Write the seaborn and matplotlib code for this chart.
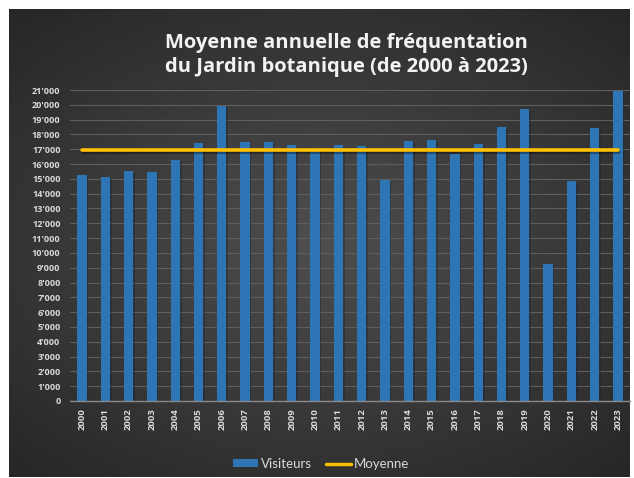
import numpy as np
import pandas as pd
import matplotlib
matplotlib.use("Agg")
import matplotlib.pyplot as plt
import matplotlib.patheffects as pe
from matplotlib.patches import Patch
from matplotlib.lines import Line2D
import seaborn as sns

# data
annees = [str(a) for a in range(2000, 2024)]
visiteurs = [15250, 15150, 15530, 15440, 16270, 17400, 19940, 17510, 17490, 17290,
             16900, 17260, 17240, 14940, 17560, 17620, 16680, 17330, 18480, 19720,
             9230, 14830, 18410, 20930]
moyenne = 16930
y_ticks = list(range(0, 22000, 1000))

sns.set_style("dark")
plt.rcParams["font.family"] = ["Open Sans", "DejaVu Sans"]

fig = plt.figure(figsize=(6.34, 4.78), dpi=100)
fig.patch.set_facecolor("white")

# dark gradient background of the chart area
bg = fig.add_axes([9 / 634, 1 - 477 / 478, 621 / 634, 468 / 478])
gx, gy = np.meshgrid(np.linspace(-1, 1, 300), np.linspace(-1, 1, 300))
r = np.sqrt((gx * 0.9) ** 2 + (gy * 1.0) ** 2)
bg.imshow(r, cmap=matplotlib.colors.LinearSegmentedColormap.from_list(
    "g", ["#4e4e4e", "#3a3a3a", "#262626"]), aspect="auto", vmin=0, vmax=1.35,
    extent=[0, 1, 0, 1])
bg.set_axis_off()

ax = fig.add_axes([70.3 / 634, 77 / 478, 559.4 / 634, 311 / 478])
ax.set_facecolor("none")

df = pd.DataFrame({"annee": annees, "visiteurs": visiteurs})
sns.barplot(data=df, x="annee", y="visiteurs", color="#2E75B6", width=0.4,
            saturation=1, edgecolor="none", linewidth=0, ax=ax, zorder=2)
for b in ax.patches:
    b.set_path_effects([pe.SimplePatchShadow(offset=(1.2, -1.2), alpha=0.35), pe.Normal()])

ax.plot(np.arange(len(annees)), [moyenne] * len(annees), color="#FFC000", lw=2.6,
        solid_capstyle="round", zorder=3,
        path_effects=[pe.SimpleLineShadow(offset=(1, -1.5), alpha=0.4), pe.Normal()])

ax.set_xlim(-0.5, len(annees) - 0.5)
ax.set_ylim(0, 21000)
ax.set_yticks(y_ticks)
ax.set_yticklabels([f"{v:,}".replace(",", "'") for v in y_ticks])
ax.yaxis.grid(True, color="#5e5e5e", lw=0.8)
ax.xaxis.grid(False)
ax.set_axisbelow(True)
ax.set_xlabel("")
ax.set_ylabel("")
for s in ["left", "right", "top"]:
    ax.spines[s].set_visible(False)
ax.spines["bottom"].set_color("#8a8a8a")
ax.spines["bottom"].set_linewidth(1.0)
ax.tick_params(axis="y", length=0, pad=7, labelsize=6.6, labelcolor="#d9d9d9")
ax.tick_params(axis="x", length=0, pad=5, labelsize=6.8, labelcolor="#d9d9d9", rotation=90)
for lab in ax.get_xticklabels() + ax.get_yticklabels():
    lab.set_fontweight("bold")

fig.text(346 / 634, 1 - 55 / 478,
         "Moyenne annuelle de fréquentation\ndu Jardin botanique (de 2000 à 2023)",
         ha="center", va="center", fontsize=14.5, fontweight="bold", color="#f2f2f2",
         linespacing=1.3)

handles = [Patch(facecolor="#2E75B6", edgecolor="none", label="Visiteurs"),
           Line2D([0], [0], color="#FFC000", lw=2.5, label="Moyenne")]
leg = fig.legend(handles=handles, loc="center", bbox_to_anchor=(321 / 634, 1 - 464 / 478),
                 ncol=2, frameon=False, handlelength=1.9, handleheight=0.55,
                 handletextpad=0.2, columnspacing=1.1, prop={"family": "Lato", "size": 9.5})
for t in leg.get_texts():
    t.set_color("#d9d9d9")

fig.savefig("out.png", dpi=100, facecolor="white")
